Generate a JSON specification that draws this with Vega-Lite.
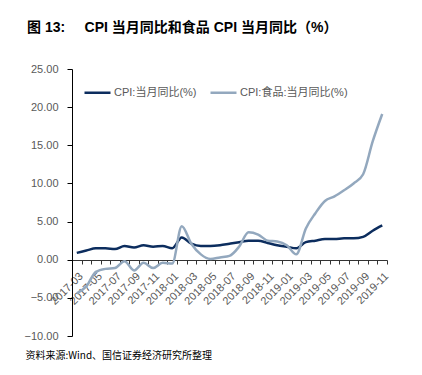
{
  "$schema": "https://vega.github.io/schema/vega-lite/v6.json",
  "padding": {"left": 24, "top": 21, "right": 5, "bottom": 5},
  "background": "white",
  "config": {
    "font": "Liberation Sans, Noto Sans CJK SC",
    "view": {"stroke": null}
  },
  "title": {
    "text": "图 13:\u00a0\u00a0\u00a0\u00a0\u00a0CPI 当月同比和食品 CPI 当月同比（%）",
    "anchor": "start",
    "orient": "top",
    "offset": 28,
    "dx": 3,
    "fontSize": 14,
    "fontWeight": "bold",
    "color": "#000000"
  },
  "width": 315,
  "height": 267,
  "data": {
    "values": [
      {"month": "2017-03", "series": "CPI:当月同比(%)", "value": 0.9},
      {"month": "2017-04", "series": "CPI:当月同比(%)", "value": 1.2},
      {"month": "2017-05", "series": "CPI:当月同比(%)", "value": 1.5},
      {"month": "2017-06", "series": "CPI:当月同比(%)", "value": 1.5},
      {"month": "2017-07", "series": "CPI:当月同比(%)", "value": 1.4},
      {"month": "2017-08", "series": "CPI:当月同比(%)", "value": 1.8},
      {"month": "2017-09", "series": "CPI:当月同比(%)", "value": 1.6},
      {"month": "2017-10", "series": "CPI:当月同比(%)", "value": 1.9},
      {"month": "2017-11", "series": "CPI:当月同比(%)", "value": 1.7},
      {"month": "2017-12", "series": "CPI:当月同比(%)", "value": 1.8},
      {"month": "2018-01", "series": "CPI:当月同比(%)", "value": 1.5},
      {"month": "2018-02", "series": "CPI:当月同比(%)", "value": 2.9},
      {"month": "2018-03", "series": "CPI:当月同比(%)", "value": 2.1},
      {"month": "2018-04", "series": "CPI:当月同比(%)", "value": 1.8},
      {"month": "2018-05", "series": "CPI:当月同比(%)", "value": 1.8},
      {"month": "2018-06", "series": "CPI:当月同比(%)", "value": 1.9},
      {"month": "2018-07", "series": "CPI:当月同比(%)", "value": 2.1},
      {"month": "2018-08", "series": "CPI:当月同比(%)", "value": 2.3},
      {"month": "2018-09", "series": "CPI:当月同比(%)", "value": 2.5},
      {"month": "2018-10", "series": "CPI:当月同比(%)", "value": 2.5},
      {"month": "2018-11", "series": "CPI:当月同比(%)", "value": 2.2},
      {"month": "2018-12", "series": "CPI:当月同比(%)", "value": 1.9},
      {"month": "2019-01", "series": "CPI:当月同比(%)", "value": 1.7},
      {"month": "2019-02", "series": "CPI:当月同比(%)", "value": 1.5},
      {"month": "2019-03", "series": "CPI:当月同比(%)", "value": 2.3},
      {"month": "2019-04", "series": "CPI:当月同比(%)", "value": 2.5},
      {"month": "2019-05", "series": "CPI:当月同比(%)", "value": 2.7},
      {"month": "2019-06", "series": "CPI:当月同比(%)", "value": 2.7},
      {"month": "2019-07", "series": "CPI:当月同比(%)", "value": 2.8},
      {"month": "2019-08", "series": "CPI:当月同比(%)", "value": 2.8},
      {"month": "2019-09", "series": "CPI:当月同比(%)", "value": 3.0},
      {"month": "2019-10", "series": "CPI:当月同比(%)", "value": 3.8},
      {"month": "2019-11", "series": "CPI:当月同比(%)", "value": 4.5},
      {"month": "2017-03", "series": "CPI:食品:当月同比(%)", "value": -4.4},
      {"month": "2017-04", "series": "CPI:食品:当月同比(%)", "value": -3.5},
      {"month": "2017-05", "series": "CPI:食品:当月同比(%)", "value": -1.6},
      {"month": "2017-06", "series": "CPI:食品:当月同比(%)", "value": -1.2},
      {"month": "2017-07", "series": "CPI:食品:当月同比(%)", "value": -1.1},
      {"month": "2017-08", "series": "CPI:食品:当月同比(%)", "value": -0.2},
      {"month": "2017-09", "series": "CPI:食品:当月同比(%)", "value": -1.4},
      {"month": "2017-10", "series": "CPI:食品:当月同比(%)", "value": -0.4},
      {"month": "2017-11", "series": "CPI:食品:当月同比(%)", "value": -1.1},
      {"month": "2017-12", "series": "CPI:食品:当月同比(%)", "value": -0.4},
      {"month": "2018-01", "series": "CPI:食品:当月同比(%)", "value": -0.5},
      {"month": "2018-02", "series": "CPI:食品:当月同比(%)", "value": 4.4},
      {"month": "2018-03", "series": "CPI:食品:当月同比(%)", "value": 2.1},
      {"month": "2018-04", "series": "CPI:食品:当月同比(%)", "value": 0.7},
      {"month": "2018-05", "series": "CPI:食品:当月同比(%)", "value": 0.1},
      {"month": "2018-06", "series": "CPI:食品:当月同比(%)", "value": 0.3},
      {"month": "2018-07", "series": "CPI:食品:当月同比(%)", "value": 0.5},
      {"month": "2018-08", "series": "CPI:食品:当月同比(%)", "value": 1.7},
      {"month": "2018-09", "series": "CPI:食品:当月同比(%)", "value": 3.6},
      {"month": "2018-10", "series": "CPI:食品:当月同比(%)", "value": 3.3},
      {"month": "2018-11", "series": "CPI:食品:当月同比(%)", "value": 2.5},
      {"month": "2018-12", "series": "CPI:食品:当月同比(%)", "value": 2.4},
      {"month": "2019-01", "series": "CPI:食品:当月同比(%)", "value": 1.9},
      {"month": "2019-02", "series": "CPI:食品:当月同比(%)", "value": 0.7},
      {"month": "2019-03", "series": "CPI:食品:当月同比(%)", "value": 4.1},
      {"month": "2019-04", "series": "CPI:食品:当月同比(%)", "value": 6.1},
      {"month": "2019-05", "series": "CPI:食品:当月同比(%)", "value": 7.7},
      {"month": "2019-06", "series": "CPI:食品:当月同比(%)", "value": 8.3},
      {"month": "2019-07", "series": "CPI:食品:当月同比(%)", "value": 9.1},
      {"month": "2019-08", "series": "CPI:食品:当月同比(%)", "value": 10.0},
      {"month": "2019-09", "series": "CPI:食品:当月同比(%)", "value": 11.2},
      {"month": "2019-10", "series": "CPI:食品:当月同比(%)", "value": 15.5},
      {"month": "2019-11", "series": "CPI:食品:当月同比(%)", "value": 19.1}
    ]
  },
  "mark": {"type": "line", "strokeWidth": 2.5, "interpolate": "monotone"},
  "encoding": {
    "x": {
      "field": "month",
      "type": "ordinal",
      "scale": {"type": "band", "paddingInner": 0, "paddingOuter": 0},
      "axis": {
        "title": "资料来源:Wind、国信证券经济研究所整理",
        "titleX": -47,
        "titleY": 95,
        "titleAlign": "left",
        "titleBaseline": "middle",
        "titleAngle": 0,
        "titleFontSize": 10,
        "titleFontWeight": "normal",
        "titleColor": "#000000",
        "titleFont": "Noto Sans CJK SC",
        "offset": -76,
        "tickBand": "extent",
        "domainColor": "#333333",
        "tickColor": "#333333",
        "tickSize": 4,
        "labelAngle": -45,
        "labelAlign": "right",
        "labelBaseline": "top",
        "labelPadding": 6,
        "labelFontSize": 11,
        "labelColor": "#595959",
        "labelOverlap": false,
        "labelExpr": "indexof(['2017-03','2017-05','2017-07','2017-09','2017-11','2018-01','2018-03','2018-05','2018-07','2018-09','2018-11','2019-01','2019-03','2019-05','2019-07','2019-09','2019-11'], datum.label) >= 0 ? datum.label : ''",
        "grid": false
      }
    },
    "y": {
      "field": "value",
      "type": "quantitative",
      "scale": {"domain": [-10, 25], "nice": false, "zero": false},
      "axis": {
        "title": null,
        "tickCount": 7,
        "format": ".2f",
        "domainColor": "#000000",
        "tickColor": "#000000",
        "tickSize": 5,
        "labelPadding": 9,
        "labelFontSize": 11,
        "labelColor": "#595959",
        "grid": false
      }
    },
    "color": {
      "field": "series",
      "type": "nominal",
      "scale": {
        "domain": ["CPI:当月同比(%)", "CPI:食品:当月同比(%)"],
        "range": ["#0C2D5E", "#93A8BE"]
      },
      "legend": {
        "title": null,
        "orient": "none",
        "legendX": 11,
        "legendY": 9,
        "direction": "horizontal",
        "symbolType": "stroke",
        "symbolSize": 676,
        "symbolStrokeWidth": 2.5,
        "labelFontSize": 11,
        "labelColor": "#595959",
        "labelOffset": 2,
        "columnPadding": 8
      }
    }
  }
}
